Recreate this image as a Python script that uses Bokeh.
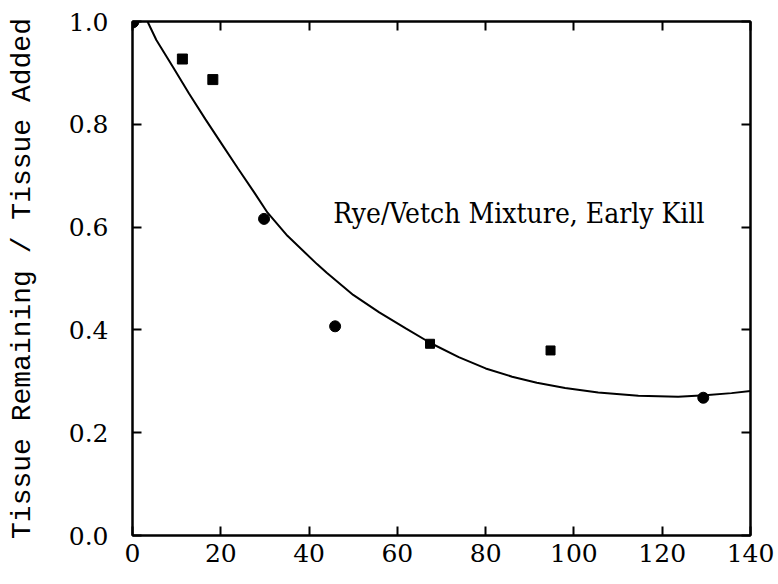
from bokeh.plotting import figure
from bokeh.models import LinearAxis, FixedTicker, NumeralTickFormatter, Label, Range1d, ColumnDataSource
from bokeh.embed import file_html
from bokeh.resources import INLINE

# Observed data (days, fraction remaining)
days = [0, 11.3, 18.2, 29.8, 45.9, 67.4, 94.7, 129.3]
remaining = [1.0, 0.927, 0.887, 0.616, 0.407, 0.373, 0.360, 0.268]

# Fitted curve
curve_x = [3.4, 5.4, 9.2, 12.8, 16.5, 20.2, 23.9, 27.6, 30.6, 35.1, 41.8, 44.0,
           50.0, 55.9, 61.9, 67.6, 73.9, 80.0, 86.0, 91.6, 98.0, 105.5, 114.6,
           123.6, 129.7, 135.7, 140.0]
curve_y = [1.0, 0.964, 0.911, 0.860, 0.810, 0.762, 0.714, 0.667, 0.628, 0.583,
           0.528, 0.511, 0.468, 0.434, 0.403, 0.374, 0.347, 0.325, 0.309, 0.297,
           0.287, 0.278, 0.272, 0.270, 0.273, 0.277, 0.281]

x_ticks = [0, 20, 40, 60, 80, 100, 120, 140]
y_ticks = [0.0, 0.2, 0.4, 0.6, 0.8, 1.0]
y_title = "Tissue Remaining / Tissue Added"
note = "Rye/Vetch Mixture, Early Kill"

markers = ["circle", "square", "square", "circle", "circle", "square", "square", "circle"]
sizes = [13, 10, 10, 11, 11, 9, 9, 11]

p = figure(width=778, height=584, output_backend="svg", toolbar_location=None,
           x_range=Range1d(0, 140), y_range=Range1d(0, 1.0),
           min_border_left=132, min_border_right=28, min_border_top=21, min_border_bottom=49,
           x_axis_location=None, y_axis_location=None)
p.grid.visible = False
p.outline_line_color = "black"
p.outline_line_width = 2
p.background_fill_color = "white"
p.border_fill_color = "white"

tick_font = "DejaVu Serif"

def style(ax, labels=True):
    ax.axis_line_color = "black"
    ax.axis_line_width = 2
    ax.major_tick_in = 9
    ax.major_tick_out = 0
    ax.major_tick_line_width = 2
    ax.minor_tick_line_color = None
    if labels:
        ax.major_label_text_font = tick_font
        ax.major_label_text_font_size = "25px"
        ax.major_label_text_color = "black"
    else:
        ax.major_label_text_font_size = "1px"
        ax.major_label_text_color = None
        ax.major_label_standoff = 0

xb = LinearAxis(ticker=FixedTicker(ticks=x_ticks))
style(xb)
xb.major_label_standoff = 8
p.add_layout(xb, "below")

yl = LinearAxis(ticker=FixedTicker(ticks=y_ticks), formatter=NumeralTickFormatter(format="0.0"))
style(yl)
yl.major_label_standoff = 24
yl.axis_label = y_title
yl.axis_label_text_font = "Liberation Mono"
yl.axis_label_text_font_size = "28px"
yl.axis_label_text_font_style = "normal"
yl.axis_label_text_color = "black"
yl.axis_label_standoff = 28
p.add_layout(yl, "left")

xt = LinearAxis(ticker=FixedTicker(ticks=x_ticks))
style(xt, labels=False)
p.add_layout(xt, "above")

yr = LinearAxis(ticker=FixedTicker(ticks=y_ticks))
style(yr, labels=False)
p.add_layout(yr, "right")

p.line(curve_x, curve_y, line_color="black", line_width=2)

src = ColumnDataSource(dict(x=days, y=remaining, m=markers, s=sizes))
p.scatter(x="x", y="y", marker="m", size="s", source=src, fill_color="black", line_color="black")

p.add_layout(Label(x=45.5, y=0.626, text=note, text_font="DejaVu Serif Condensed",
                   text_font_size="28px", text_baseline="middle", text_color="black"))

open("out.html", "w").write(file_html(p, INLINE))
